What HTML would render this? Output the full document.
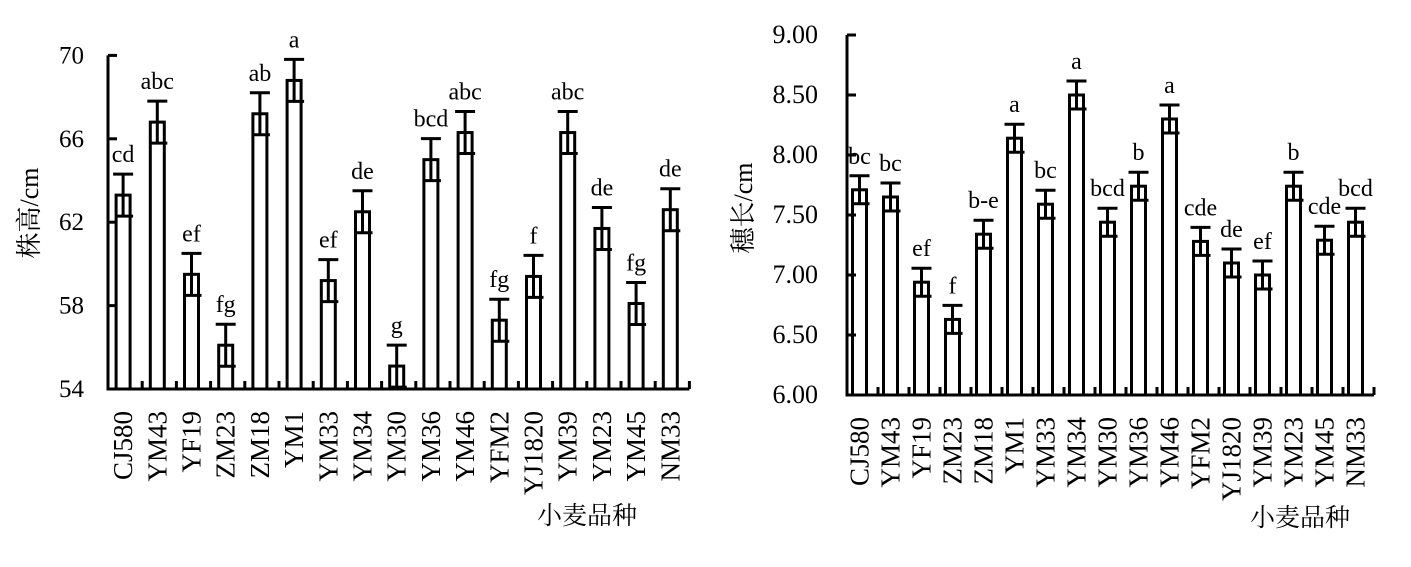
<!DOCTYPE html>
<html><head><meta charset="utf-8"><style>
html,body{margin:0;padding:0;background:#fff;}
svg{display:block;font-family:"Liberation Serif","Noto Serif CJK SC",serif;}
</style></head><body>
<svg id="s" width="1411" height="567" xmlns="http://www.w3.org/2000/svg">
<text x="32" y="213" font-size="26" text-anchor="middle" transform="rotate(-90 32 213)" fill="#000" dominant-baseline="middle">株高/cm</text>
<text x="746" y="208" font-size="26" text-anchor="middle" transform="rotate(-90 746 208)" fill="#000" dominant-baseline="middle">穗长/cm</text>
<text x="587" y="524" font-size="25" text-anchor="middle" fill="#000">小麦品种</text>
<text x="1300" y="526" font-size="25" text-anchor="middle" fill="#000">小麦品种</text>
</svg>
<script>
var s=document.getElementById('s'),NS='http://www.w3.org/2000/svg';
function el(t,a,txt){var e=document.createElementNS(NS,t);for(var k in a)e.setAttribute(k,a[k]);if(txt)e.textContent=txt;s.appendChild(e);return e;}
var cats=["CJ580","YM43","YF19","ZM23","ZM18","YM1","YM33","YM34","YM30","YM36","YM46","YFM2","YJ1820","YM39","YM23","YM45","NM33"];
function chart(o){
  var y=function(v){return o.y0-(v-o.vmin)*o.k;};
  for(var i=0;i<17;i++){
    var cx=o.x0+o.sp*(i+0.5)+o.off, v=o.vals[i], yt=y(v), e=o.err;
    el('rect',{x:cx-7,y:yt,width:14,height:o.y0-yt,fill:'#fff',stroke:'#000','stroke-width':3});
    el('line',{x1:cx,y1:yt-e,x2:cx,y2:yt+e,stroke:'#000','stroke-width':3});
    el('line',{x1:cx-10,y1:yt-e,x2:cx+10,y2:yt-e,stroke:'#000','stroke-width':3});
    el('line',{x1:cx-7,y1:yt+e,x2:cx+10,y2:yt+e,stroke:'#000','stroke-width':3});
    el('text',{x:cx,y:yt-e-12,'font-size':24,'text-anchor':'middle'},o.lab[i]);
    var lx=cx+9, ly=o.y0+22;
    el('text',{x:lx,y:ly,'font-size':27,'text-anchor':'end',transform:'rotate(-90 '+lx+' '+ly+')'},cats[i]);
    el('line',{x1:o.x0+o.sp*(i+1),y1:o.y0,x2:o.x0+o.sp*(i+1),y2:o.y0-8,stroke:'#000','stroke-width':3});
  }
  el('path',{d:'M'+o.x0+' '+y(o.vmax)+'V'+o.y0+'H'+(o.x0+o.sp*17),fill:'none',stroke:'#000','stroke-width':3});
  o.ticks.forEach(function(t){
    var ty=y(t[0]);
    el('line',{x1:o.x0,y1:ty,x2:o.x0+9,y2:ty,stroke:'#000','stroke-width':3});
    el('text',{x:o.lx,y:ty+8,'font-size':o.fs,'text-anchor':'end'},t[1]);
  });
}
chart({x0:108,y0:389,sp:34.2,off:-2,vmin:54,vmax:70,k:20.85,err:21,lx:84,fs:25,
 vals:[63.3,66.8,59.5,56.1,67.2,68.8,59.2,62.5,55.1,65.0,66.3,57.3,59.4,66.3,61.7,58.1,62.6],
 lab:["cd","abc","ef","fg","ab","a","ef","de","g","bcd","abc","fg","f","abc","de","fg","de"],
 ticks:[[54,"54"],[58,"58"],[62,"62"],[66,"66"],[70,"70"]]});
chart({x0:847,y0:395,sp:31,off:-3,vmin:6,vmax:9,k:120,err:14,lx:818,fs:26,
 vals:[7.71,7.65,6.94,6.63,7.34,8.14,7.59,8.5,7.44,7.74,8.3,7.28,7.1,7.0,7.74,7.29,7.44],
 lab:["bc","bc","ef","f","b-e","a","bc","a","bcd","b","a","cde","de","ef","b","cde","bcd"],
 ticks:[[6,"6.00"],[6.5,"6.50"],[7,"7.00"],[7.5,"7.50"],[8,"8.00"],[8.5,"8.50"],[9,"9.00"]]});
</script>
</body></html>
